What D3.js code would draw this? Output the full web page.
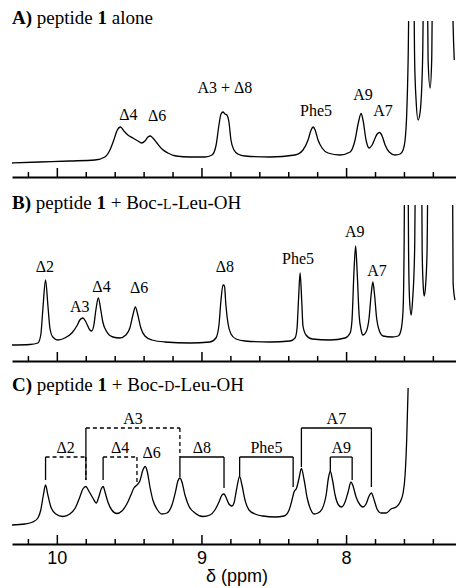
<!DOCTYPE html>
<html><head><meta charset="utf-8">
<script src="https://cdn.jsdelivr.net/npm/d3@7"></script>
<style>body{margin:0;background:#fff}svg{display:block}</style>
</head><body>
<script>
// ---------- DATA (ppm, intensity in arbitrary units above baseline) ----------
const spectrumA = [
[10.31,2],[10.118,3],[9.910,4],[9.737,5],[9.668,8],[9.633,15],[9.606,25],[9.585,34],[9.559,38],[9.536,34],
[9.509,30],[9.474,27],[9.439,24],[9.414,22],[9.391,24],[9.370,28],[9.353,29],[9.336,27],[9.308,22],[9.273,16],
[9.232,12],[9.176,9],[9.080,8],[8.976,8],[8.927,10],[8.900,19],[8.879,40],[8.865,51],[8.851,53],[8.837,51],
[8.824,50],[8.810,43],[8.796,25],[8.775,15],[8.748,11],[8.699,9],[8.526,8],[8.353,10],[8.298,15],[8.263,25],
[8.242,35],[8.228,38],[8.214,35],[8.194,25],[8.166,17],[8.125,12],[8.042,10],[7.972,13],[7.938,25],[7.917,41],
[7.896,51.5],[7.883,45],[7.862,25],[7.841,17],[7.820,20],[7.799,27],[7.785,31],[7.768,32.5],[7.751,29],[7.730,20],
[7.702,13],[7.661,10],[7.626,11],[7.606,15],[7.592,25],[7.581,50],[7.571,105],[7.557,265],[7.537,265],[7.526,105],
[7.516,65],[7.502,45],[7.488,53],[7.471,105],[7.457,265],[7.443,265],[7.433,105],[7.419,77],[7.408,105],[7.398,265],
[7.273,265],[7.260,140],[7.252,105]
];
const spectrumB = [
[10.31,2],[10.187,2.5],[10.131,4],[10.111,12],[10.097,37],[10.078,67],[10.062,42],[10.048,19],[10.028,10],[9.993,7],
[9.945,9],[9.896,14],[9.862,21],[9.841,27],[9.820,29],[9.799,25],[9.772,17],[9.758,16],[9.744,22],[9.730,37],
[9.713,49],[9.696,37],[9.682,25],[9.654,15],[9.613,10],[9.564,9],[9.523,12],[9.495,19],[9.474,32],[9.457,40],
[9.440,32],[9.419,19],[9.391,11],[9.343,7],[9.253,5],[9.080,4],[8.941,5],[8.900,9],[8.879,22],[8.865,47],
[8.851,62],[8.841,61],[8.831,42],[8.817,24],[8.796,13],[8.761,8],[8.699,6],[8.526,5],[8.388,6],[8.353,9],
[8.339,19],[8.329,47],[8.318,74],[8.307,47],[8.298,21],[8.277,12],[8.235,8],[8.111,7],[8.007,9],[7.972,14],
[7.959,27],[7.945,77],[7.934,101],[7.924,77],[7.910,32],[7.896,17],[7.883,12],[7.862,15],[7.841,29],[7.827,52],
[7.815,65],[7.803,52],[7.789,29],[7.772,17],[7.744,11],[7.682,10],[7.640,11],[7.620,17],[7.606,37],[7.599,97],
[7.592,250],[7.575,250],[7.568,97],[7.561,47],[7.550,32],[7.540,47],[7.526,97],[7.516,250],[7.481,250],[7.474,97],
[7.467,62],[7.460,51],[7.450,62],[7.440,97],[7.429,250],[7.267,250],[7.260,64],[7.247,47]
];
const spectrumC = [
[10.31,3],[10.221,4],[10.166,6],[10.131,10],[10.111,18],[10.093,33],[10.078,43],[10.062,33],[10.041,21],[10.007,14],
[9.959,11.5],[9.910,14],[9.869,21],[9.841,31],[9.820,39],[9.799,41.5],[9.779,37],[9.751,30],[9.727,25],[9.710,31],
[9.693,39],[9.680,41.5],[9.665,35],[9.647,26],[9.620,18],[9.585,14.5],[9.550,17],[9.516,24],[9.488,33],[9.467,40],
[9.446,43],[9.426,47],[9.405,58],[9.389,61.5],[9.374,56],[9.356,41],[9.336,28],[9.308,19],[9.273,14],[9.239,15],
[9.204,23],[9.180,36],[9.163,47],[9.149,50],[9.135,46],[9.114,33],[9.087,22],[9.045,15],[8.990,11.5],[8.941,13],
[8.907,18],[8.879,26],[8.858,33],[8.844,34],[8.831,31],[8.810,24],[8.789,22],[8.775,25],[8.758,38],[8.736,51.5],
[8.720,43],[8.699,28],[8.671,18],[8.630,14],[8.574,12],[8.491,11],[8.429,12],[8.394,18],[8.374,28],[8.360,36],
[8.342,40],[8.325,50],[8.309,59.5],[8.290,48],[8.269,30],[8.249,20],[8.221,14],[8.194,15],[8.166,19],[8.138,33],
[8.121,51],[8.109,56.5],[8.094,48],[8.076,33],[8.052,23],[8.031,21],[8.007,26],[7.986,36],[7.966,46],[7.952,42],
[7.931,31],[7.903,23],[7.883,21],[7.862,24],[7.841,32],[7.825,35],[7.806,28],[7.786,19],[7.758,15],[7.723,15],
[7.689,19],[7.654,21],[7.626,26],[7.606,35],[7.592,53],[7.581,88],[7.571,140]
];
// peak labels: [text, ppm, height of label baseline]
const labelsA = [["Δ4",9.506,45],["Δ6",9.306,44],["A3 + Δ8",8.838,72],["Phe5",8.208,49],["A9",7.883,65],["A7",7.744,49]];
const labelsB = [["Δ2",10.083,75],["A3",9.841,35],["Δ4",9.691,55],["Δ6",9.431,54],["Δ8",8.838,75],["Phe5",8.332,83.5],["A9",7.940,110],["A7",7.786,71]];
const labelsC = [["Δ6",9.345,70]];
// assignment brackets in C: [label, ppm left, ppm right, bar height, left end height, right end height, dashed]
const bracketsC = [
 ["Δ2",10.078,9.799,71,48,48,true],
 ["A3",9.799,9.149,100,48,71,true],
 ["Δ4",9.680,9.446,71,48,45,true],
 ["Δ8",9.149,8.844,71,51,40,false],
 ["Phe5",8.736,8.366,71,52,41,false],
 ["A7",8.309,7.825,100,61,41,false],
 ["A9",8.109,7.958,71,56,48,false]
];
const majorTicks = [10, 9, 8];
const minorTicks = [10.2,9.8,9.6,9.4,9.2,8.8,8.6,8.4,8.2,7.8,7.6,7.4];
const titles = [
 [{t:"A)",b:true},{t:" peptide "},{t:"1",b:true},{t:" alone"}],
 [{t:"B)",b:true},{t:" peptide "},{t:"1",b:true},{t:" + Boc-"},{t:"L",sc:true},{t:"-Leu-OH"}],
 [{t:"C)",b:true},{t:" peptide "},{t:"1",b:true},{t:" + Boc-"},{t:"D",sc:true},{t:"-Leu-OH"}]
];
const xLabel = "δ (ppm)";

// ---------- LAYOUT ----------
const W = 456, H = 588;
const svg = d3.select("body").append("svg").attr("width", W).attr("height", H);
const x = d3.scaleLinear().domain([10.31, 7.24]).range([12, 456]);
const panels = [
 {data: spectrumA, labels: labelsA, y0: 165, axisY: 177, clipTop: 21, titleY: 24},
 {data: spectrumB, labels: labelsB, y0: 347, axisY: 361, clipTop: 205, titleY: 209},
 {data: spectrumC, labels: labelsC, y0: 528, axisY: 544, clipTop: 370, titleY: 391}
];
const serif = "'Liberation Serif','Times New Roman',serif";
const sans = "'Liberation Sans',Arial,sans-serif";

panels.forEach((p, i) => {
  const y = d3.scaleLinear().domain([0, 144]).range([p.y0, p.y0 - 144]);
  const g = svg.append("g");
  // title
  const tt = g.append("text").attr("x", 12).attr("y", p.titleY)
    .attr("font-family", serif).attr("font-size", 19).attr("fill", "#000");
  titles[i].forEach(s => {
    const ts = tt.append("tspan").text(s.t).attr("xml:space","preserve").style("white-space","pre");
    if (s.b) ts.attr("font-weight", "bold");
    if (s.sc) ts.attr("font-size", 14);
  });
  // clip
  svg.append("clipPath").attr("id", "clip" + i).append("rect")
    .attr("x", 12).attr("y", p.clipTop).attr("width", W - 12).attr("height", p.axisY - p.clipTop);
  const line = d3.line().x(d => x(d[0])).y(d => y(d[1])).curve(d3.curveMonotoneX);
  g.append("path").datum(p.data).attr("d", line).attr("fill", "none")
    .attr("stroke", "#000").attr("stroke-width", 1.3).attr("stroke-linejoin", "round")
    .attr("clip-path", `url(#clip${i})`);
  // labels
  g.selectAll("text.lab").data(p.labels).enter().append("text").attr("class", "lab")
    .attr("x", d => x(d[1])).attr("y", d => y(d[2])).attr("text-anchor", "middle")
    .attr("font-family", serif).attr("font-size", 16).attr("fill", "#000").text(d => d[0]);
  // axis
  const ax = g.append("g").attr("transform", `translate(0,${p.axisY})`);
  ax.call(d3.axisTop(x).tickValues(minorTicks).tickSize(5).tickSizeOuter(0).tickFormat(""));
  ax.append("g").call(d3.axisTop(x).tickValues(majorTicks).tickSize(9).tickSizeOuter(0).tickFormat(""))
    .select(".domain").remove();
  ax.selectAll(".domain").attr("stroke-width", 2).attr("stroke", "#000");
  ax.selectAll(".tick line").attr("stroke-width", 1.5).attr("stroke", "#000");
  if (i === 2) {
    const bl = g.append("g").attr("transform", `translate(0,${p.axisY})`)
      .call(d3.axisBottom(x).tickValues(majorTicks).tickSize(0).tickPadding(7).tickFormat(d3.format("d")));
    bl.select(".domain").remove();
    bl.selectAll("text").attr("font-family", sans).attr("font-size", 18).attr("fill", "#000");
    g.append("text").attr("x", 237).attr("y", 582).attr("text-anchor", "middle")
      .attr("font-family", sans).attr("font-size", 18).attr("fill", "#000").text(xLabel);
    // brackets
    bracketsC.forEach(b => {
      const [lab, a, c, lv, le, re, dashed] = b;
      const dash = dashed ? "4,3" : null;
      g.append("line").attr("x1", x(a)).attr("x2", x(a)).attr("y1", y(lv)).attr("y2", y(le))
        .attr("stroke", "#000").attr("stroke-width", 1.3);
      g.append("line").attr("x1", x(a)).attr("x2", x(c)).attr("y1", y(lv)).attr("y2", y(lv))
        .attr("stroke", "#000").attr("stroke-width", 1.3).attr("stroke-dasharray", dash);
      g.append("line").attr("x1", x(c)).attr("x2", x(c)).attr("y1", y(lv)).attr("y2", y(re))
        .attr("stroke", "#000").attr("stroke-width", 1.3).attr("stroke-dasharray", dash);
      g.append("text").attr("x", (x(a) + x(c)) / 2).attr("y", y(lv) - 4).attr("text-anchor", "middle")
        .attr("font-family", serif).attr("font-size", 16).attr("fill", "#000").text(lab);
    });
  }
});
</script>
</body></html>
